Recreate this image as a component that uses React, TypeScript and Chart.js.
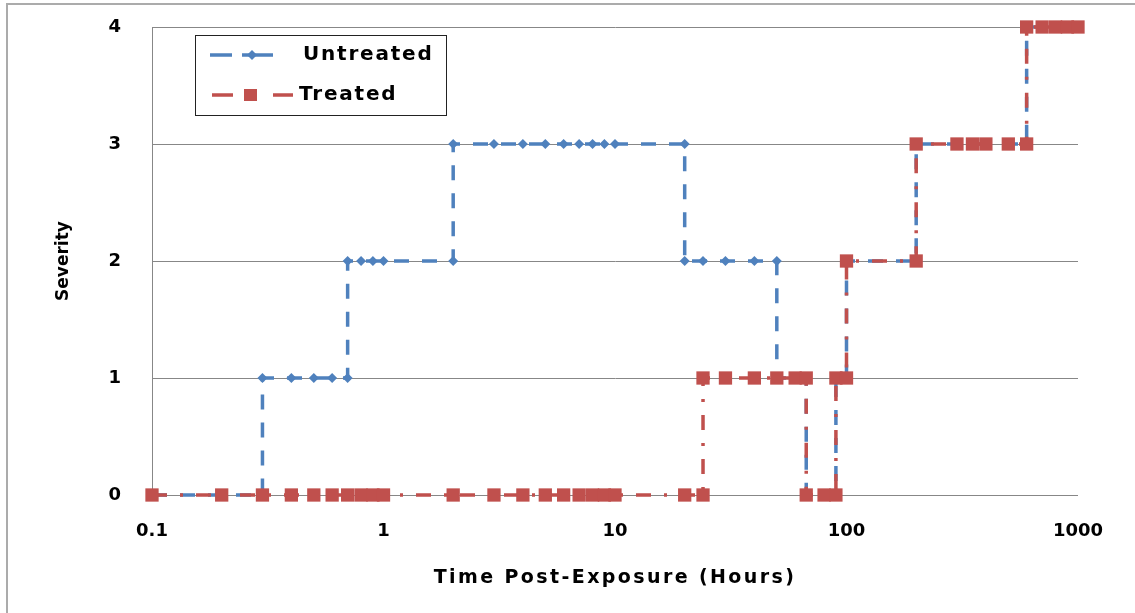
import React, { useEffect, useRef } from "react";
import { Chart, registerables } from "chart.js";

Chart.register(...registerables);

// ---- Data (hours post-exposure vs. severity score) ----
const untreatedTimes = [
  0.1, 0.2, 0.3, 0.3, 0.4, 0.5, 0.6, 0.7, 0.7, 0.8, 0.9, 1, 2, 2, 3, 4, 5, 6, 7, 8, 9, 10, 20,
  20, 24, 30, 40, 50, 50, 60, 67, 67, 80, 90, 90, 100, 100, 200, 200, 300, 350, 400, 500, 600,
  600, 700, 800, 900, 1000,
];
const untreatedSeverity = [
  0, 0, 0, 1, 1, 1, 1, 1, 2, 2, 2, 2, 2, 3, 3, 3, 3, 3, 3, 3, 3, 3, 3,
  2, 2, 2, 2, 2, 1, 1, 1, 0, 0, 0, 1, 1, 2, 2, 3, 3, 3, 3, 3, 3,
  4, 4, 4, 4, 4,
];
const treatedTimes = [
  0.1, 0.2, 0.3, 0.4, 0.5, 0.6, 0.7, 0.8, 0.9, 1, 2, 3, 4, 5, 6, 7, 8, 9, 10, 20, 24,
  24, 30, 40, 50, 60, 67, 67, 80, 90, 90, 100, 100, 200, 200, 300, 350, 400, 500, 600,
  600, 700, 800, 900, 1000,
];
const treatedSeverity = [
  0, 0, 0, 0, 0, 0, 0, 0, 0, 0, 0, 0, 0, 0, 0, 0, 0, 0, 0, 0, 0,
  1, 1, 1, 1, 1, 1, 0, 0, 0, 1, 1, 2, 2, 3, 3, 3, 3, 3, 3,
  4, 4, 4, 4, 4,
];
const xTickValues = [0.1, 1, 10, 100, 1000];
const xTickLabels = ["0.1", "1", "10", "100", "1000"];
const yTickLabels = ["0", "1", "2", "3", "4"];
const seriesLabels = ["Untreated", "Treated"];
const xTitle = "Time Post-Exposure (Hours)";
const yTitle = "Severity";

const BLUE = "#4F81BD";
const RED = "#C0504D";
const GRID = "#878787";
const FONT = "'DejaVu Sans', sans-serif";

const toPoints = (xs: number[], ys: number[]) => xs.map((x, i) => ({ x, y: ys[i] }));

const legendPlugin = {
  id: "excelLegend",
  beforeDraw(chart: any) {
    chart.ctx.letterSpacing = "0px";
  },
  afterDatasetsDraw(chart: any) {
    // wide lettering for the x-axis title (drawn after datasets)
    chart.ctx.letterSpacing = "2.4px";
  },
  afterDraw(chart: any) {
    const ctx = chart.ctx as any;
    ctx.save();
    ctx.letterSpacing = "0px";
    // box
    ctx.fillStyle = "#ffffff";
    ctx.fillRect(195.5, 35.5, 251, 80);
    ctx.strokeStyle = "#222222";
    ctx.lineWidth = 1;
    ctx.strokeRect(195.5, 35.5, 251, 80);

    // Untreated sample
    ctx.lineWidth = 3.5;
    ctx.lineCap = "butt";
    ctx.strokeStyle = BLUE;
    ctx.beginPath();
    ctx.moveTo(210, 55);
    ctx.lineTo(232, 55);
    ctx.moveTo(242, 55);
    ctx.lineTo(273, 55);
    ctx.stroke();
    ctx.fillStyle = BLUE;
    ctx.beginPath();
    ctx.moveTo(252 - 5, 55);
    ctx.lineTo(252, 55 - 5);
    ctx.lineTo(252 + 5, 55);
    ctx.lineTo(252, 55 + 5);
    ctx.closePath();
    ctx.fill();

    // Treated sample
    ctx.strokeStyle = RED;
    ctx.beginPath();
    ctx.moveTo(212, 95);
    ctx.lineTo(233, 95);
    ctx.moveTo(273, 95);
    ctx.lineTo(293, 95);
    ctx.stroke();
    ctx.fillStyle = RED;
    ctx.fillRect(244, 89, 13, 12);

    // texts
    const labels = chart.data.datasets.map((d: any) => d.label);
    ctx.letterSpacing = "1.8px";
    ctx.fillStyle = "#000000";
    ctx.font = `bold 20px ${FONT}`;
    ctx.textBaseline = "middle";
    ctx.textAlign = "left";
    ctx.fillText(labels[1], 303, 55);
    ctx.fillText(labels[0], 299, 95);
    ctx.restore();
    ctx.letterSpacing = "0px";
  },
};

export default function App() {
  const canvasRef = useRef<HTMLCanvasElement | null>(null);

  useEffect(() => {
    if (!canvasRef.current) return;
    const chart = new Chart(canvasRef.current, {
      type: "line",
      data: {
        datasets: [
          {
            label: seriesLabels[1],
            data: toPoints(treatedTimes, treatedSeverity),
            borderColor: RED,
            backgroundColor: RED,
            borderWidth: 3.5,
            borderDash: [15, 13, 3, 13],
            borderCapStyle: "butt",
            pointStyle: "rect",
            pointRadius: 9.4,
            pointBorderWidth: 0,
            pointBackgroundColor: RED,
            pointBorderColor: RED,
            tension: 0,
            clip: false,
            order: 0,
          } as any,
          {
            label: seriesLabels[0],
            data: toPoints(untreatedTimes, untreatedSeverity),
            borderColor: BLUE,
            backgroundColor: BLUE,
            borderWidth: 3.5,
            borderDash: [15, 13],
            borderCapStyle: "butt",
            pointStyle: "rectRot",
            pointRadius: 5,
            pointBorderWidth: 0,
            pointBackgroundColor: BLUE,
            pointBorderColor: BLUE,
            tension: 0,
            clip: false,
            order: 1,
          } as any,
        ],
      },
      options: {
        animation: false,
        responsive: false,
        maintainAspectRatio: false,
        layout: { padding: { top: 27, right: 57, bottom: 0, left: 0 } },
        plugins: {
          legend: { display: false },
          tooltip: { enabled: false },
        },
        scales: {
          x: {
            type: "logarithmic",
            min: 0.1,
            max: 1000,
            afterBuildTicks: (s: any) => {
              s.ticks = xTickValues.map((v) => ({ value: v }));
            },
            afterFit: (s: any) => {
              s.height = 118;
            },
            ticks: {
              autoSkip: false,
              maxRotation: 0,
              padding: 26,
              color: "#000",
              font: { family: FONT, size: 18, weight: "bold" },
              callback: (_v: any, i: number) => xTickLabels[i],
            },
            grid: { display: false, drawTicks: false, z: 1 },
            border: { display: false },
            title: {
              display: true,
              text: xTitle,
              color: "#000",
              font: { family: FONT, size: 19, weight: "bold" },
              padding: { top: 0, bottom: 24 },
            },
          },
          y: {
            min: 0,
            max: 4,
            afterFit: (s: any) => {
              s.width = 152;
              s.paddingTop = 10;
              s.paddingBottom = 10;
            },
            ticks: {
              stepSize: 1,
              padding: 31,
              color: "#000",
              font: { family: FONT, size: 18, weight: "bold" },
              callback: (_v: any, i: number) => yTickLabels[i],
            },
            grid: { color: GRID, lineWidth: 1, drawTicks: false },
            border: { display: true, color: GRID, width: 1 },
            title: {
              display: true,
              text: yTitle,
              color: "#000",
              font: { family: FONT, size: 17, weight: "bold" },
              padding: { top: 53, bottom: 0 },
            },
          },
        },
      } as any,
      plugins: [legendPlugin],
    });
    return () => chart.destroy();
  }, []);

  return (
    <div
      style={{
        position: "absolute",
        left: 0,
        top: 0,
        width: 1135,
        height: 613,
        background: "#fff",
        overflow: "hidden",
      }}
    >
      <div
        style={{
          position: "absolute",
          left: 6,
          top: 3,
          width: 1140,
          height: 620,
          borderLeft: "2px solid #ababab",
          borderTop: "2px solid #ababab",
        }}
      />
      <canvas
        ref={canvasRef}
        width={1135}
        height={613}
        style={{ position: "absolute", left: 0, top: 0 }}
      />
    </div>
  );
}
